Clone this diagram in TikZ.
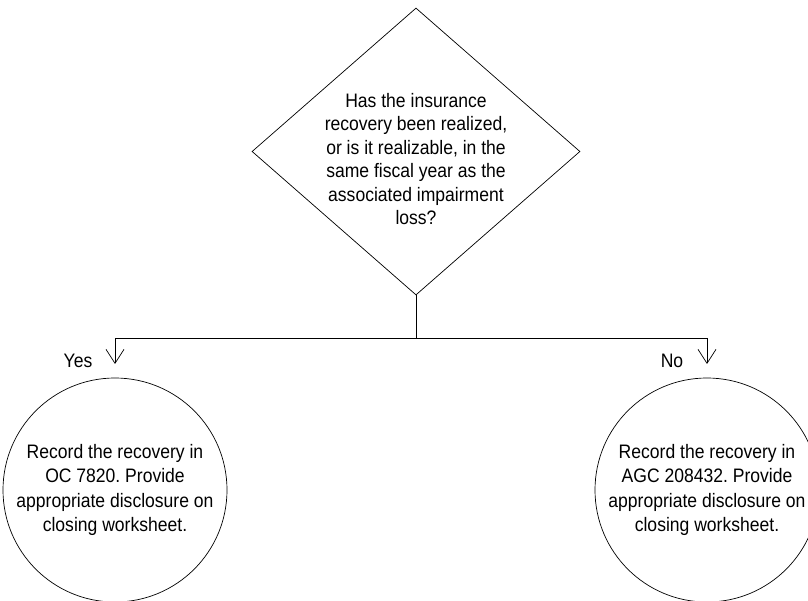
\documentclass[tikz,border=0pt]{standalone}
\usepackage{fontspec}
\setmainfont{Liberation Sans}[FakeStretch=0.9]
\usetikzlibrary{shapes.geometric,arrows.meta}
\frenchspacing
\begin{document}
\begin{tikzpicture}[x=1pt,y=1pt]
\tikzstyle{arrow} = [line width = 0.7pt, color = black, -{Straight Barb[length=14pt,width=18pt,line width=0.7pt]}] % open arrow to the answers
\tikzstyle{line} = [line width = 0.7pt, color = black] % plain connector
\tikzstyle{decision} = [draw, line width = 0.7pt, shape = diamond, minimum width = 328pt, minimum height = 287pt, inner sep = 0pt] % question diamond
\tikzstyle{outcome} = [draw, line width = 0.7pt, shape = circle, minimum size = 224pt, inner sep = 0pt, align = center, font = \fontsize{19.5}{24.3}\selectfont] % result circle
\tikzstyle{txt} = [align = center, font = \fontsize{19.5}{23.5}\selectfont] % plain text
\useasboundingbox (0,0) rectangle (808,600); % fix page size
\node(question)[decision] at (416,448.5){}; % draw question diamond
\node(qtext)[txt] at (416,441){Has the insurance\\recovery been realized,\\or is it realizable, in the\\same fiscal year as the\\associated impairment\\loss?}; % question text
\coordinate(fork) at (416,262); % branching point below the diamond
\coordinate(yestip) at (115,236); % end of yes arrow
\coordinate(notip) at (707,236); % end of no arrow
\draw[line](question.south)--(fork); % stem from diamond
\draw[arrow](fork)-|(yestip); % yes branch
\draw[arrow](fork)-|(notip); % no branch
\node(yes)[txt] at (78,239){Yes}; % yes label
\node(no)[txt] at (672,239){No}; % no label
\node(record)[outcome] at (115,110){Record the recovery in\\OC 7820. Provide\\appropriate disclosure on\\closing worksheet.}; % yes result
\node(defer)[outcome] at (707,110){Record the recovery in\\AGC 208432. Provide\\appropriate disclosure on\\closing worksheet.}; % no result
\end{tikzpicture}
\end{document}
